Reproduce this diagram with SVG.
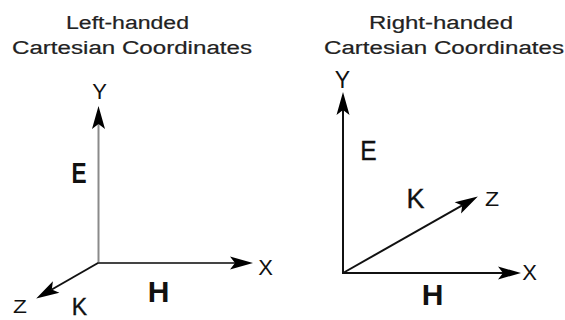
<svg xmlns="http://www.w3.org/2000/svg" width="565" height="320" viewBox="0 0 565 320">
  <style>
    .title { font-family: "Liberation Sans", Arial, sans-serif; font-size: 18px; fill: #222; stroke: #222; stroke-width: 0.2px; }
    .lbl { font-family: "Liberation Sans", Arial, sans-serif; fill: #111; text-anchor: middle; }
    .heavy { stroke: #111; stroke-width: 0.35px; }
    .bold { font-weight: bold; }
    .axis { fill: none; stroke-width: 2; stroke-linecap: butt; }
  </style>
  <defs>
    <marker id="arrow" markerUnits="userSpaceOnUse" markerWidth="23" markerHeight="13" viewBox="0 0 23 13" refX="5" refY="6.5" orient="auto" overflow="visible">
      <path d="M0,0 L23,6.5 L0,13 L5,6.5 Z" fill="#000"/>
    </marker>
  </defs>
  <rect width="565" height="320" fill="#fff"/>

  <g id="left-panel">
    <g id="left-title">
      <text class="title" x="66" y="29" textLength="123" lengthAdjust="spacingAndGlyphs">Left-handed</text>
      <text class="title" x="12" y="54" textLength="240" lengthAdjust="spacingAndGlyphs">Cartesian Coordinates</text>
    </g>
    <g id="left-connectors">
      <line class="axis" x1="98.5" y1="264" x2="98.5" y2="124" stroke="#8a8a8a" stroke-width="2.5" marker-end="url(#arrow)"/>
      <line class="axis" x1="97.5" y1="263" x2="235" y2="263" stroke="#444" stroke-width="2.5" marker-end="url(#arrow)"/>
      <line class="axis" x1="98" y1="263" x2="51.8" y2="289.5" stroke="#111" marker-end="url(#arrow)"/>
    </g>
    <g id="left-labels">
      <text class="lbl" font-size="22" transform="translate(99.5,98.5)">Y</text>
      <text class="lbl bold" font-size="29" transform="translate(79,182.5) scale(0.78,1)">E</text>
      <text class="lbl" font-size="22" transform="translate(265.5,274.5)">X</text>
      <text class="lbl bold" font-size="30" transform="translate(158.5,301.5)">H</text>
      <text class="lbl" font-size="19" transform="translate(20,312.5) scale(1.2,1)">Z</text>
      <text class="lbl heavy" font-size="23" transform="translate(79.5,315)">K</text>
    </g>
  </g>

  <g id="right-panel">
    <g id="right-title">
      <text class="title" x="369" y="29" textLength="144" lengthAdjust="spacingAndGlyphs">Right-handed</text>
      <text class="title" x="324" y="54" textLength="240" lengthAdjust="spacingAndGlyphs">Cartesian Coordinates</text>
    </g>
    <g id="right-connectors">
      <line class="axis" x1="343" y1="274" x2="343" y2="110" stroke="#111" marker-end="url(#arrow)"/>
      <line class="axis" x1="342" y1="273" x2="503" y2="273" stroke="#111" marker-end="url(#arrow)"/>
      <line class="axis" x1="343" y1="273" x2="462.2" y2="205.4" stroke="#111" marker-end="url(#arrow)"/>
    </g>
    <g id="right-labels">
      <text class="lbl" font-size="23" transform="translate(342.5,87.5)">Y</text>
      <text class="lbl heavy" font-size="28" transform="translate(368.5,159.5) scale(0.88,1)">E</text>
      <text class="lbl heavy" font-size="27" transform="translate(415.5,207.5)">K</text>
      <text class="lbl" font-size="21" transform="translate(492,205.5) scale(1.1,1)">Z</text>
      <text class="lbl" font-size="22" transform="translate(529.5,279.5)">X</text>
      <text class="lbl bold" font-size="30" transform="translate(432.5,304.5)">H</text>
    </g>
  </g>
</svg>
